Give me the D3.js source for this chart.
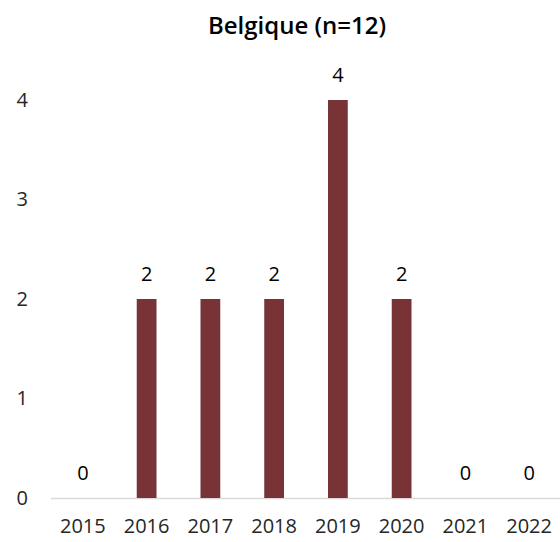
<!DOCTYPE html>
<html lang="fr">
<head>
<meta charset="utf-8"/>
<style>
body { margin: 0; background: #fff; }
.axis .domain { display: none; }
.axis line { display: none; }
</style>
</head>
<body>
<svg width="560" height="542"></svg>
<script src="https://d3js.org/d3.v7.min.js"></script>
<script>

var years = ["2015", "2016", "2017", "2018", "2019", "2020", "2021", "2022"];
var counts = [0, 2, 2, 2, 4, 2, 0, 0];
var yTicks = [0, 1, 2, 3, 4];

var svg = d3.select("svg"),
    margin = {top: 100, right: -1, bottom: 44, left: 51},
    width = +svg.attr("width") - margin.left - margin.right,
    height = +svg.attr("height") - margin.top - margin.bottom,
    g = svg.append("g").attr("transform", "translate(" + margin.left + "," + margin.top + ")");

var font = "'Open Sans', 'Noto Sans', sans-serif";

var x = d3.scaleBand()
    .domain(years)
    .range([0, width])
    .paddingInner(0.69)
    .paddingOuter(0.345);

var y = d3.scaleLinear()
    .domain([0, 4])
    .range([height, 0]);

// title
svg.append("text")
    .attr("x", 297)
    .attr("y", 34)
    .attr("text-anchor", "middle")
    .attr("font-family", font)
    .attr("font-size", 24)
    .attr("font-weight", 600)
    .attr("fill", "#000")
    .text("Belgique (n=12)");

// baseline
g.append("line")
    .attr("x1", 0)
    .attr("x2", width)
    .attr("y1", y(0) + 0.5)
    .attr("y2", y(0) + 0.5)
    .attr("stroke", "#d9d9d9")
    .attr("stroke-width", 1.5);

// bars
g.selectAll("rect")
    .data(counts)
    .enter().append("rect")
    .attr("x", function(d, i) { return x(years[i]); })
    .attr("y", function(d) { return y(d); })
    .attr("width", x.bandwidth())
    .attr("height", function(d) { return y(0) - y(d); })
    .attr("fill", "#773335");

// value labels
g.selectAll(".val")
    .data(counts)
    .enter().append("text")
    .attr("class", "val")
    .attr("x", function(d, i) { return x(years[i]) + x.bandwidth() / 2; })
    .attr("y", function(d) { return y(d) - 18; })
    .attr("text-anchor", "middle")
    .attr("font-family", font)
    .attr("font-size", 20)
    .attr("fill", "#000")
    .text(function(d) { return d; });

// y axis
g.append("g")
    .attr("class", "axis")
    .call(d3.axisLeft(y).tickValues(yTicks).tickFormat(d3.format("d")).tickSize(0).tickPadding(23))
    .selectAll("text")
    .attr("font-family", font)
    .attr("font-size", 20)
    .attr("fill", "#262626");

// x axis
g.append("g")
    .attr("class", "axis")
    .attr("transform", "translate(0," + height + ")")
    .call(d3.axisBottom(x).tickSize(0).tickPadding(21))
    .selectAll("text")
    .attr("font-family", font)
    .attr("font-size", 20)
    .attr("fill", "#262626");

</script>
</body>
</html>
